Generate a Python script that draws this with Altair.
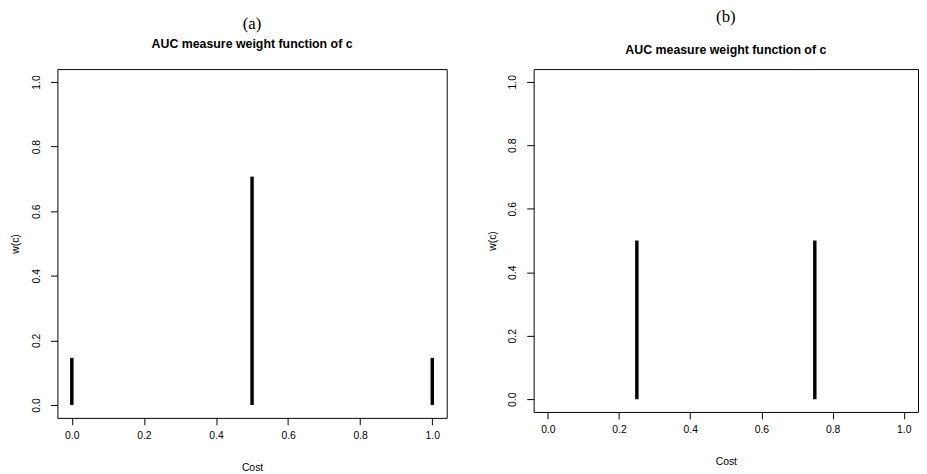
import altair as alt
import pandas as pd

# ---- data ----
panel_a_cost = [0.0, 0.5, 1.0]
panel_a_weight = [0.146, 0.707, 0.146]
panel_b_cost = [0.25, 0.75]
panel_b_weight = [0.5, 0.5]
tick_values = [0.0, 0.2, 0.4, 0.6, 0.8, 1.0]
panel_labels = ["(a)", "(b)"]
panel_subtitle = "AUC measure weight function of c"
x_title = "Cost"
y_title = "w(c)"

SANS = "Liberation Sans"
SERIF = "Liberation Serif"


def panel(costs, weights, label, w, h, sub_pad, offset, dy):
    df = pd.DataFrame({"cost": costs, "w": weights, "base": [0.0] * len(costs)})
    xs = alt.Scale(domain=[-0.04, 1.04], nice=False, zero=False)
    ys = alt.Scale(domain=[-0.04, 1.04], nice=False, zero=False)
    x_axis = alt.Axis(values=tick_values, format=".1f", title=x_title,
                      labelFlush=False, labelOverlap=False, labelPadding=6,
                      titlePadding=22)
    y_axis = alt.Axis(values=tick_values, format=".1f", title=y_title,
                      labelAngle=270, labelFlush=False, labelOverlap=False,
                      labelPadding=9, titlePadding=11)
    return (
        alt.Chart(df)
        .mark_rule(color="black", strokeWidth=3.5, strokeCap="butt")
        .encode(
            x=alt.X("cost:Q", scale=xs, axis=x_axis),
            y=alt.Y("base:Q", scale=ys, axis=y_axis),
            y2=alt.Y2("w:Q"),
        )
        .properties(
            width=w,
            height=h,
            title=alt.TitleParams(
                text=label,
                subtitle=panel_subtitle,
                font=SERIF,
                fontSize=17,
                fontWeight="normal",
                color="black",
                subtitleFont=SANS,
                subtitleFontSize=12.5,
                subtitleFontWeight="bold",
                subtitleColor="black",
                subtitlePadding=sub_pad,
                offset=offset,
                dy=dy,
                anchor="middle",
            ),
        )
    )


left = panel(panel_a_cost, panel_a_weight, panel_labels[0], 394, 353, 5, 12, -6)
right = panel(panel_b_cost, panel_b_weight, panel_labels[1], 389, 347, 18, 12, 0)

chart = (
    alt.concat(left, right, columns=2, align="none", spacing=39)
    .properties(padding={"left": 2, "top": -3, "right": 0, "bottom": 0},
                background="white")
    .configure_view(stroke="black", strokeWidth=1)
    .configure_axis(
        labelFont=SANS,
        labelFontSize=10.5,
        labelColor="black",
        titleFont=SANS,
        titleFontSize=10.5,
        titleFontWeight="normal",
        titleColor="black",
        tickColor="black",
        tickSize=7,
        tickWidth=1,
        domain=False,
        grid=False,
    )
)

chart.save("out.html", embed_options={"renderer": "svg", "actions": False})
